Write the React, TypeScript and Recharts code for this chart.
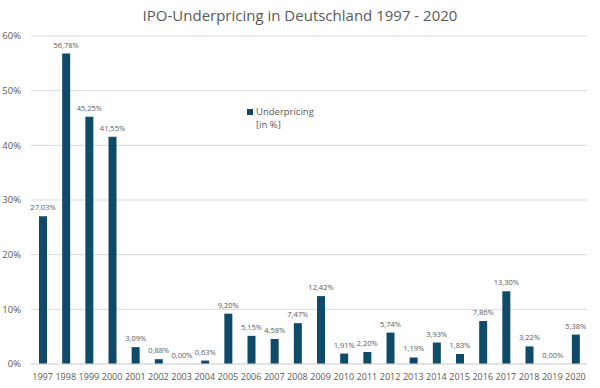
import React from 'react';
import { BarChart, Bar, XAxis, YAxis, CartesianGrid, LabelList } from 'recharts';

const years = [
  '1997', '1998', '1999', '2000', '2001', '2002', '2003', '2004', '2005', '2006', '2007', '2008',
  '2009', '2010', '2011', '2012', '2013', '2014', '2015', '2016', '2017', '2018', '2019', '2020',
];
const underpricing = [
  27.03, 56.78, 45.25, 41.55, 3.09, 0.88, 0.0, 0.63, 9.2, 5.15, 4.58, 7.47,
  12.42, 1.91, 2.2, 5.74, 1.19, 3.93, 1.83, 7.86, 13.3, 3.22, 0.0, 5.38,
];
const yTicks = [0, 10, 20, 30, 40, 50, 60];

const data = years.map((y, i) => ({ year: y, value: underpricing[i] }));

const BAR = '#0f4a68';
const TEXT = '#595959';
const FONT = '"Open Sans", "Liberation Sans", sans-serif';

const fmt = (v: number) => Number(v).toFixed(2).replace('.', ',') + '%';

export default function App() {
  return (
    <div style={{ position: 'fixed', left: 0, top: 0, width: 600, height: 388, background: '#fff' }}>
      <div
        style={{
          position: 'absolute', top: 5, left: 0, width: 600, textAlign: 'center',
          fontFamily: FONT, fontSize: 15, color: TEXT,
        }}
      >
        IPO-Underpricing in Deutschland 1997 - 2020
      </div>
      <div
        style={{
          position: 'absolute', left: 247, top: 105, display: 'flex', alignItems: 'flex-start',
          fontFamily: FONT, fontSize: 9.5, color: TEXT, lineHeight: '13px', zIndex: 2,
        }}
      >
        <span style={{ width: 6, height: 6, background: BAR, marginTop: 4, marginRight: 3 }} />
        <span>Underpricing<br />[in %]</span>
      </div>
      <BarChart
        width={600}
        height={388}
        data={data}
        margin={{ top: 36, right: 13, bottom: 0, left: 0 }}
      >
        <CartesianGrid vertical={false} stroke="#d9d9d9" />
        <XAxis
          dataKey="year"
          interval={0}
          height={24}
          tickLine={false}
          axisLine={{ stroke: '#d9d9d9' }}
          tick={{ fontFamily: FONT, fontSize: 9, fill: TEXT }}
          tickMargin={4}
        />
        <YAxis
          width={31}
          domain={[0, 60]}
          ticks={yTicks}
          tickFormatter={(v: number) => `${v}%`}
          axisLine={false}
          tickLine={false}
          tick={{ fontFamily: FONT, fontSize: 9.5, fill: TEXT }}
          tickMargin={4}
        />
        <Bar
          dataKey="value"
          fill={BAR}
          barSize={8}
          minPointSize={(v: number) => (v === 0 ? 0.01 : 0)}
          isAnimationActive={false}
        >
          <LabelList
            dataKey="value"
            position="top"
            offset={6}
            formatter={(v: number) => fmt(v)}
            style={{ fontFamily: FONT, fontSize: 7.5, fill: TEXT }}
          />
        </Bar>
      </BarChart>
    </div>
  );
}
